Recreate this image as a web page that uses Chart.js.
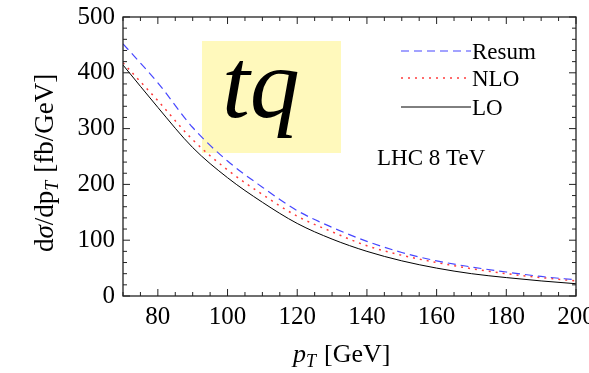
<!DOCTYPE html>
<html>
<head>
<meta charset="utf-8">
<script src="https://cdn.jsdelivr.net/npm/chart.js@4.4.1/dist/chart.umd.min.js"></script>
<style>
html,body{margin:0;padding:0;background:#fff;}
#wrap{width:589px;height:373px;position:relative;}
</style>
</head>
<body>
<div id="wrap"><canvas id="c" width="589" height="373"></canvas></div>
<script>
// ---- data ----
const pT    = [70, 80, 90, 100, 110, 120, 130, 140, 150, 160, 170, 180, 190, 200];
const resum = [452, 382, 302, 242, 195, 153, 123, 98, 78, 63, 52, 43, 35, 29];
const nlo   = [418, 350, 280, 226, 182, 143, 115, 90, 73, 60, 49, 40, 33, 27];
const lo    = [414, 338, 266, 212, 168, 130, 102, 80, 63, 50, 40, 33, 27, 22];
const seriesNames = ["Resum", "NLO", "LO"];
const xTickValues = [80, 100, 120, 140, 160, 180, 200];
const yTickValues = [0, 100, 200, 300, 400, 500];

const SERIF = '"Liberation Serif", "DejaVu Serif", serif';
const pts = arr => pT.map((x, i) => ({x: x, y: arr[i]}));

// frame + inward ticks on all four sides
const framePlugin = {
  id: 'frame',
  afterDraw(chart) {
    const {ctx, chartArea: a, scales: {x, y}} = chart;
    ctx.save();
    ctx.strokeStyle = '#222';
    ctx.lineWidth = 1.3;
    ctx.strokeRect(a.left, a.top, a.right - a.left, a.bottom - a.top);
    ctx.lineWidth = 1;
    ctx.beginPath();
    for (let v = 70; v <= 200; v += 5) {
      const px = x.getPixelForValue(v);
      const len = (v % 20 === 0) ? 7 : 4;
      ctx.moveTo(px, a.bottom); ctx.lineTo(px, a.bottom - len);
      ctx.moveTo(px, a.top); ctx.lineTo(px, a.top + len);
    }
    for (let v = 0; v <= 500; v += 20) {
      const py = y.getPixelForValue(v);
      const len = (v % 100 === 0) ? 7 : 4;
      ctx.moveTo(a.left, py); ctx.lineTo(a.left + len, py);
      ctx.moveTo(a.right, py); ctx.lineTo(a.right - len, py);
    }
    ctx.stroke();
    ctx.restore();
  }
};

// annotations: tq box, legend, LHC label, axis titles
const annoPlugin = {
  id: 'anno',
  beforeDatasetsDraw(chart) {
    const ctx = chart.ctx;
    ctx.save();
    ctx.fillStyle = '#FFF9BC';
    ctx.fillRect(202, 41, 139, 112);
    ctx.restore();
  },
  afterDraw(chart) {
    const ctx = chart.ctx;
    ctx.save();
    // tq
    ctx.fillStyle = '#000';
    ctx.font = 'italic 100px ' + SERIF;
    ctx.textBaseline = 'alphabetic';
    ctx.textAlign = 'left';
    ctx.fillText('tq', 222, 117);

    // legend
    const ds = chart.data.datasets;
    const rows = [51, 78, 107];
    ctx.font = '23px ' + SERIF;
    ds.forEach((d, i) => {
      ctx.strokeStyle = d.borderColor;
      ctx.lineWidth = d.borderWidth;
      ctx.setLineDash(d.borderDash || []);
      ctx.beginPath();
      ctx.moveTo(401, rows[i]); ctx.lineTo(471, rows[i]);
      ctx.stroke();
      ctx.setLineDash([]);
      ctx.fillStyle = '#000';
      ctx.fillText(d.label, 472, rows[i] + 8);
    });

    // LHC label
    ctx.font = '23px ' + SERIF;
    ctx.fillText('LHC 8 TeV', 377, 165);

    // x title: p_T [GeV]
    let xx = 293, yy = 362;
    ctx.font = 'italic 26px ' + SERIF;
    ctx.fillText('p', xx, yy); xx += ctx.measureText('p').width;
    ctx.font = 'italic 18px ' + SERIF;
    ctx.fillText('T', xx, yy + 5); xx += ctx.measureText('T').width + 8;
    ctx.font = '26px ' + SERIF;
    ctx.fillText('[GeV]', xx, yy);

    // y title: dσ/dp_T [fb/GeV]
    ctx.translate(53, 252);
    ctx.rotate(-Math.PI / 2);
    let t = 0;
    const part = (s, f, dy) => { ctx.font = f; ctx.fillText(s, t, dy || 0); t += ctx.measureText(s).width; };
    part('d', '27px ' + SERIF);
    part('σ', 'italic 27px ' + SERIF);
    part('/dp', '27px ' + SERIF);
    part('T', 'italic 18px ' + SERIF, 5);
    t += 8;
    part('[fb/GeV]', '27px ' + SERIF);
    ctx.restore();
  }
};

new Chart(document.getElementById('c'), {
  type: 'line',
  data: {
    datasets: [
      {label: seriesNames[0], data: pts(resum), borderColor: 'rgb(70,70,255)', borderWidth: 1.2, borderDash: [8, 5], pointRadius: 0, cubicInterpolationMode: 'monotone', fill: false},
      {label: seriesNames[1], data: pts(nlo), borderColor: 'rgb(255,60,60)', borderWidth: 1.5, borderDash: [2, 5], pointRadius: 0, cubicInterpolationMode: 'monotone', fill: false},
      {label: seriesNames[2], data: pts(lo), borderColor: '#000', borderWidth: 1, pointRadius: 0, cubicInterpolationMode: 'monotone', fill: false}
    ]
  },
  options: {
    responsive: false,
    animation: false,
    events: [],
    layout: {padding: {top: 17, right: 13, left: 0, bottom: 0}},
    plugins: {legend: {display: false}, tooltip: {enabled: false}, title: {display: false}},
    scales: {
      x: {
        type: 'linear', min: 70, max: 200,
        afterBuildTicks: s => { s.ticks = xTickValues.map(v => ({value: v})); },
        afterFit: s => { s.height = 77; s.paddingLeft = 0; s.paddingRight = 0; },
        grid: {display: false, drawTicks: false},
        border: {display: false},
        ticks: {font: {family: SERIF, size: 25}, color: '#000', padding: 6, maxRotation: 0, autoSkip: false}
      },
      y: {
        type: 'linear', min: 0, max: 500,
        afterBuildTicks: s => { s.ticks = yTickValues.map(v => ({value: v})); },
        afterFit: s => { s.width = 123; s.paddingTop = 0; s.paddingBottom = 0; },
        grid: {display: false, drawTicks: false},
        border: {display: false},
        ticks: {font: {family: SERIF, size: 25}, color: '#000', padding: 8}
      }
    }
  },
  plugins: [annoPlugin, framePlugin]
});
</script>
</body>
</html>
